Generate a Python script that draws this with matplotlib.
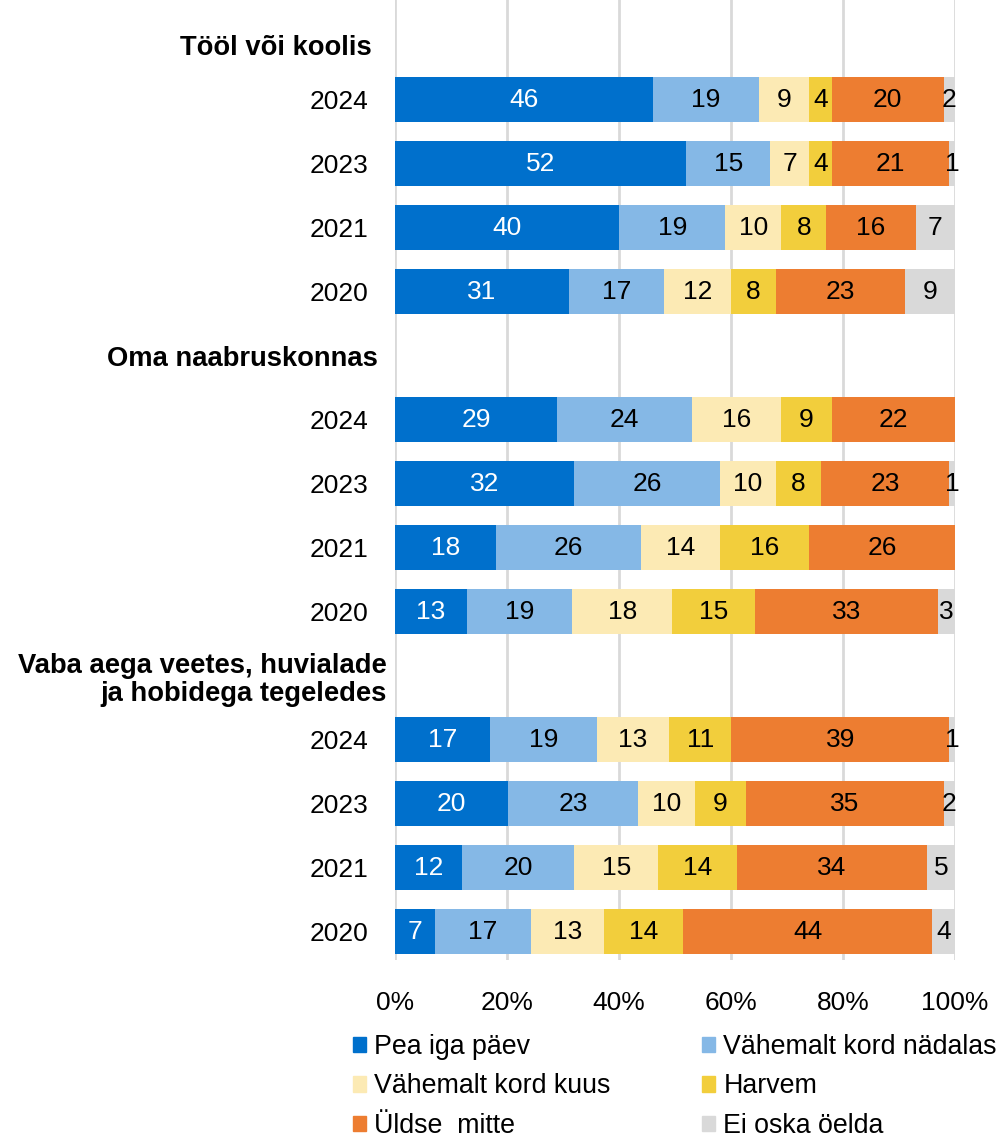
import numpy as np
import pandas as pd
import matplotlib.pyplot as plt
import matplotlib.transforms as mtransforms
from matplotlib.ticker import PercentFormatter
from matplotlib.patches import Patch

plt.rcParams['font.family'] = ['Liberation Sans', 'DejaVu Sans']

headers = ['Tööl või koolis', 'Oma naabruskonnas',
           'Vaba aega veetes, huvialade\nja hobidega tegeledes']
years = ['2024', '2023', '2021', '2020']

series = ['Pea iga päev', 'Vähemalt kord nädalas', 'Vähemalt kord kuus',
          'Harvem', 'Üldse  mitte', 'Ei oska öelda']
pea = [46, 52, 40, 31, 29, 32, 18, 13, 17, 20, 12, 7]
nadal = [19, 15, 19, 17, 24, 26, 26, 19, 19, 23, 20, 17]
kuus = [9, 7, 10, 12, 16, 10, 14, 18, 13, 10, 15, 13]
harvem = [4, 4, 8, 8, 9, 8, 16, 15, 11, 9, 14, 14]
uldse = [20, 21, 16, 23, 22, 23, 26, 33, 39, 35, 34, 44]
ei = [2, 1, 7, 9, 0, 1, 0, 3, 1, 2, 5, 4]

colors = ['#0070CC', '#85B8E6', '#FCEAB4', '#F2CE3C', '#ED7D31', '#D9D9D9']
text_colors = ['white', 'black', 'black', 'black', 'black', 'black']

df = pd.DataFrame(dict(zip(series, [pea, nadal, kuus, harvem, uldse, ei])))
# 100% stacked: normalise each row
pct = df.div(df.sum(axis=1), axis=0) * 100

# slot positions: header, then 4 years, per group
ypos, ylabels, is_header = [], [], []
bar_y = []
slot = 0
for g, h in enumerate(headers):
    ypos.append(slot); ylabels.append(h); is_header.append(True)
    slot += 1
    for y in years:
        ypos.append(slot); ylabels.append(y); is_header.append(False)
        bar_y.append(slot)
        slot += 1

fig = plt.figure(figsize=(10.04, 11.41), dpi=100)
ax = fig.add_axes([395 / 1004, 1 - 960 / 1141, 560 / 1004, 960 / 1141])

left = np.zeros(len(df))
for i, s in enumerate(series):
    w = pct[s].values
    ax.barh(bar_y, w, left=left, height=0.7, color=colors[i], zorder=3)
    for y, l, wi, v in zip(bar_y, left, w, df[s].values):
        if v > 0:
            ax.text(l + wi / 2, y, str(v), ha='center', va='center',
                    fontsize=19, color=text_colors[i], zorder=4)
    left += w

ax.set_xlim(0, 100)
ax.set_ylim(14.44, -0.56)
ax.set_xticks(np.arange(0, 101, 20))
ax.xaxis.set_major_formatter(PercentFormatter(decimals=0))
ax.grid(axis='x', color='#D9D9D9', lw=2, zorder=0)
ax.set_yticks(ypos)
ax.set_yticklabels(ylabels)
ax.tick_params(axis='y', length=0, labelsize=19, pad=19.5)
ax.tick_params(axis='x', length=0, labelsize=19, pad=22)

# header labels: bold, nudged (pixels) to where the source puts them
nudge = [(4, -9), (10, 0), (19, 0)]
hi = 0
for lab, h in zip(ax.get_yticklabels(), is_header):
    if h:
        dx, dy = nudge[hi]
        hi += 1
        lab.set_fontweight('bold')
        lab.set_fontsize(19.7)
        lab.set_multialignment('right')
        lab.set_linespacing(1.1)
        lab.set_transform(lab.get_transform() + mtransforms.ScaledTranslation(
            dx / 100, dy / 100, fig.dpi_scale_trans))
for sp in ax.spines.values():
    sp.set_visible(False)

handles = [Patch(color=c) for c in colors]
order = [0, 2, 4, 1, 3, 5]
fig.legend([handles[i] for i in order], [series[i] for i in order],
           ncol=2, loc='upper left', bbox_to_anchor=(353 / 1004, 1 - 1034 / 1141),
           frameon=False, fontsize=19.3, handlelength=0.5, handleheight=0.5,
           handletextpad=0.3, columnspacing=3.4, labelspacing=0.5,
           borderaxespad=0, borderpad=0)

fig.savefig('out.png', dpi=100)
